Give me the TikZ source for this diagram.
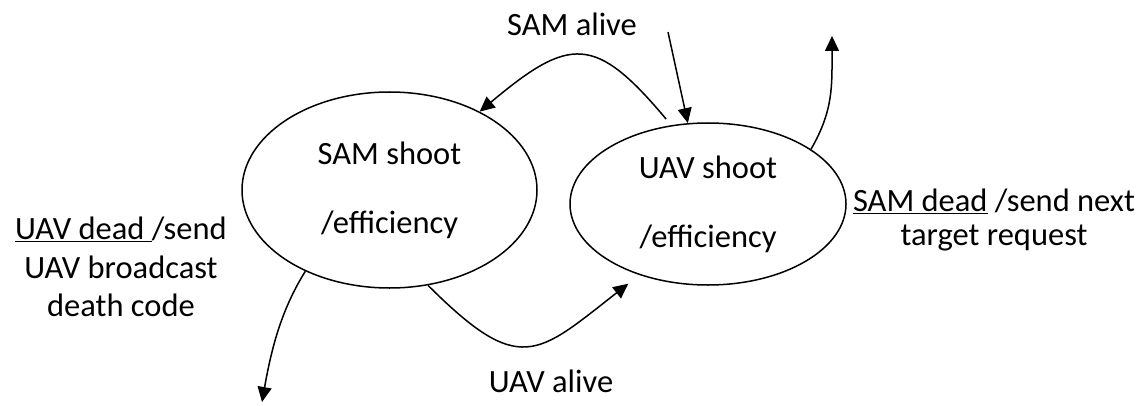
\documentclass[tikz,border=0pt]{standalone}
\usepackage{fontspec}
\setmainfont{Carlito}
\usetikzlibrary{arrows.meta,shapes.geometric}

\begin{document}
\begin{tikzpicture}[x=1pt,y=1pt,
  state/.style={draw, ellipse, line width=1.5pt, inner sep=0pt, align=center,
    font=\fontsize{32.5}{69}\selectfont},
  edge/.style={line width=1.5pt, -{Triangle[length=15pt,width=14pt]}},
  lbl/.style={align=center, inner sep=0pt, font=\fontsize{32.5}{38.5}\selectfont}]

\useasboundingbox (0,0) rectangle (1145,405);

% the two states
\node[state, minimum width=295pt, minimum height=196pt] (sam) at (389.5,215)
  {SAM shoot\\/efficiency};
\node[state, minimum width=276pt, minimum height=162pt] (uav) at (708,201)
  {UAV shoot\\/efficiency};

% free ends of the entry and exit arrows
\coordinate (samAliveIn) at (668,373);
\coordinate (nextTarget) at (832,369);
\coordinate (uavDeath) at (262,3);

% transitions
\draw[edge, shorten <=8pt] (uav.115) .. controls +(130:118) and +(40:118) .. (sam.41);
\draw[edge] (samAliveIn) -- (uav.104);
\draw[edge] (uav.28) .. controls +(60:45) and +(270:50) .. (nextTarget);
\draw[edge] (sam.224.5) .. controls +(238:45) and +(80:55) .. (uavDeath);
\draw[edge, shorten >=14pt] (sam.-68) .. controls +(-45:130) and +(218:130) .. (uav.226);

% labels
\node[lbl] (samAlive) at (572,381) {SAM alive};
\node[lbl] (uavAlive) at (551,24) {UAV alive};
\node[lbl] (uavDead) at (121,138) {\underline{UAV dead\ }/send\\UAV broadcast\\death code};
\node[lbl, font=\fontsize{32.5}{33.5}\selectfont] (samDead) at (994,185)
  {\underline{SAM dead} /send next\\target request};
\end{tikzpicture}
\end{document}
